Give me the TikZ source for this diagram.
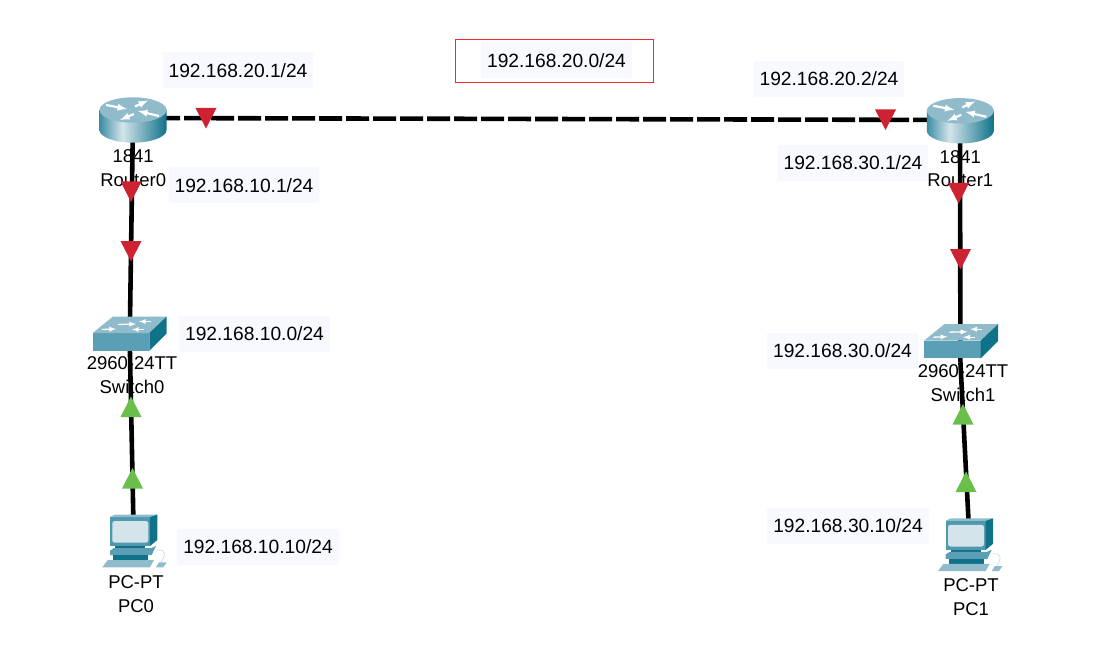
\documentclass[tikz,border=0pt]{standalone}
\usepackage{fontspec}
\setmainfont{Liberation Sans}
\usepackage{xcolor}
\usepackage{tikz}
\usetikzlibrary{arrows,positioning,calc}

\definecolor{boxbg}{HTML}{F8F9FF}
\definecolor{ifred}{HTML}{CD2232}
\definecolor{ifgreen}{HTML}{6ABF4B}
\definecolor{boxred}{HTML}{F52A2A}
\definecolor{ciscotop}{HTML}{8FBBCB}
\definecolor{ciscomid}{HTML}{5A9FB5}
\definecolor{ciscodark}{HTML}{0F7288}
\definecolor{ciscopale}{HTML}{D4E4EB}

\pgfdeclarehorizontalshading{routerbody}{100bp}{
  color(0bp)=(ciscomid!60!ciscodark); color(25bp)=(ciscomid!60!ciscodark);
  color(42bp)=(ciscopale); color(75bp)=(ciscodark); color(100bp)=(ciscodark)}

\tikzset{
  hub/.style={inner sep=0pt,minimum size=0pt},
  iplabel/.style={fill=boxbg,inner xsep=6pt,inner ysep=0pt,minimum height=36pt,
                  font=\fontsize{19.2}{22}\selectfont},
  devlabel/.style={inner sep=0pt,align=center,
                   font=\fontsize{18.5}{23.6}\selectfont},
  wire/.style={line width=4.6pt,black},
  routericon/.pic={
    \path[shading=routerbody] (-33.5,-10) -- (-33.5,10)
      arc[start angle=180,end angle=360,x radius=33.5pt,y radius=12.7pt]
      -- (33.5,-10) -- cycle;
    \fill[ciscotop] (0,-10) ellipse[x radius=33.5pt,y radius=12.7pt];
    \draw[->,white,line width=2.2pt] (-27,-15) -- (-6,-11);
    \draw[->,white,line width=2.2pt] (2,-13.5) -- (15,-19.5);
    \draw[->,white,line width=2.2pt] (1,-6) -- (-13,0);
    \draw[->,white,line width=2.2pt] (26,-4) -- (5,-9);
  },
  switchicon/.pic={
    \fill[ciscomid] (-37.3,0) rectangle (19.3,17.7);
    \fill[ciscotop] (-37.3,0) -- (19.3,0) -- (36.7,-16.5) -- (-17,-16.5) -- cycle;
    \fill[ciscodark] (19.3,0) -- (36.7,-16.5) -- (36.7,0.5) -- (19.3,17.7) -- cycle;
    \draw[->,white,line width=1.3pt] (-12,-8.5) -- (6,-9);
    \draw[->,white,line width=1.3pt] (21,-11.5) -- (9,-11.5);
    \draw[->,white,line width=1.3pt] (-28,-3.5) -- (-14,-4);
    \draw[->,white,line width=1.3pt] (14,-3.5) -- (2,-3.5);
  },
  pcicon/.pic={
    \draw[ciscotop!50!white,line width=.7pt] (27,33) .. controls (36,32) and (36,38) .. (31,45);
    \fill[ciscomid!85!ciscodark] (-20,0) rectangle (20,29);
    \fill[ciscotop] (-20,0) -- (-15,-2.4) -- (27.3,-2.4) -- (20,0) -- cycle;
    \fill[ciscodark] (20,0) -- (27.3,-2.4) -- (27.3,23) -- (20,29) -- cycle;
    \fill[ciscopale,rounded corners=2.5pt] (-17.7,4) rectangle (18.3,25.7);
    \fill[ciscodark] (-15,29) rectangle (15,34);
    \fill[ciscomid] (-20,33.7) -- (-16,31) -- (21.5,31) -- (26,29) -- (21.7,38) -- (-20,38) -- cycle;
    \fill[ciscodark] (-17,38) rectangle (18,43);
    \fill[ciscotop] (-27.7,50.3) -- (-22.3,43) -- (24,43) -- (20,50.3) -- cycle;
    \fill[ciscotop] (26,50.3) -- (29,45.3) -- (36.7,45.3) -- (33.3,50.3) -- cycle;
  },
  tridown/.pic={\fill[ifred] (-10.5,-10) -- (10.5,-10) -- (0,10.5) -- cycle;},
  triup/.pic={\fill[ifgreen] (-10.5,10) -- (10.5,10) -- (0,-10.5) -- cycle;}
}

\begin{document}
\begin{tikzpicture}[x=1pt,y=-1pt,>=latex]
  \useasboundingbox (0,0) rectangle (1105,663);

  % connection points of the devices
  \node(r0)[hub] at (133,118) {};
  \node(r1)[hub] at (960,120) {};
  \node(s0)[hub] at (129.7,340) {};
  \node(s1)[hub] at (960.4,362) {};
  \node(pc0)[hub] at (133.6,530) {};
  \node(pc1)[hub] at (969,530) {};

  \draw[wire,dash pattern=on 23pt off 4pt,dash phase=3pt] (r0) -- (r1);
  \draw[wire] (r0) -- (s0);
  \draw[wire] (s0) -- (pc0);
  \draw[wire] (r1) -- (s1);
  \draw[wire] (s1) -- (pc1);

  \path (133,120) pic {routericon};
  \path (960.3,120.8) pic {routericon};
  \path (130,333) pic {switchicon};
  \path (961.3,340.7) pic {switchicon};
  \path (130,517) pic {pcicon};
  \path (965.7,520.8) pic {pcicon};

  \node(r0txt)[devlabel] at (133.2,168) {1841\\Router0};
  \node(r1txt)[devlabel] at (960.3,168.7) {1841\\Router1};
  \node(s0txt)[devlabel] at (132,375.3) {2960-24TT\\Switch0};
  \node(s1txt)[devlabel] at (963,383.3) {2960-24TT\\Switch1};
  \node(pc0txt)[devlabel] at (136,594.3) {PC-PT\\PC0};
  \node(pc1txt)[devlabel] at (971,597) {PC-PT\\PC1};

  % port lights
  \path (206,118) pic {tridown};
  \path (885.5,119.5) pic {tridown};
  \path (131,191.5) pic {tridown};
  \path (131,251) pic {tridown};
  \path (958.5,193) pic {tridown};
  \path (960.5,259) pic {tridown};
  \path (131,407) pic {triup};
  \path (132.5,478.5) pic {triup};
  \path (963,414.5) pic {triup};
  \path (966,482) pic {triup};

  \draw[boxred,line width=1.2pt] (455.5,39.5) rectangle (653.5,82.5);
  \node(netA)[iplabel] at (556.5,60.5) {192.168.20.0/24};
  \node(ipA)[iplabel] at (238,70.5) {192.168.20.1/24};
  \node(ipB)[iplabel] at (829,79) {192.168.20.2/24};
  \node(ipC)[iplabel] at (244,185.5) {192.168.10.1/24};
  \node(ipD)[iplabel] at (853,163) {192.168.30.1/24};
  \node(netB)[iplabel] at (254.5,334) {192.168.10.0/24};
  \node(netC)[iplabel] at (842.5,351) {192.168.30.0/24};
  \node(ipE)[iplabel] at (258,547) {192.168.10.10/24};
  \node(ipF)[iplabel] at (848,526) {192.168.30.10/24};
\end{tikzpicture}
\end{document}
